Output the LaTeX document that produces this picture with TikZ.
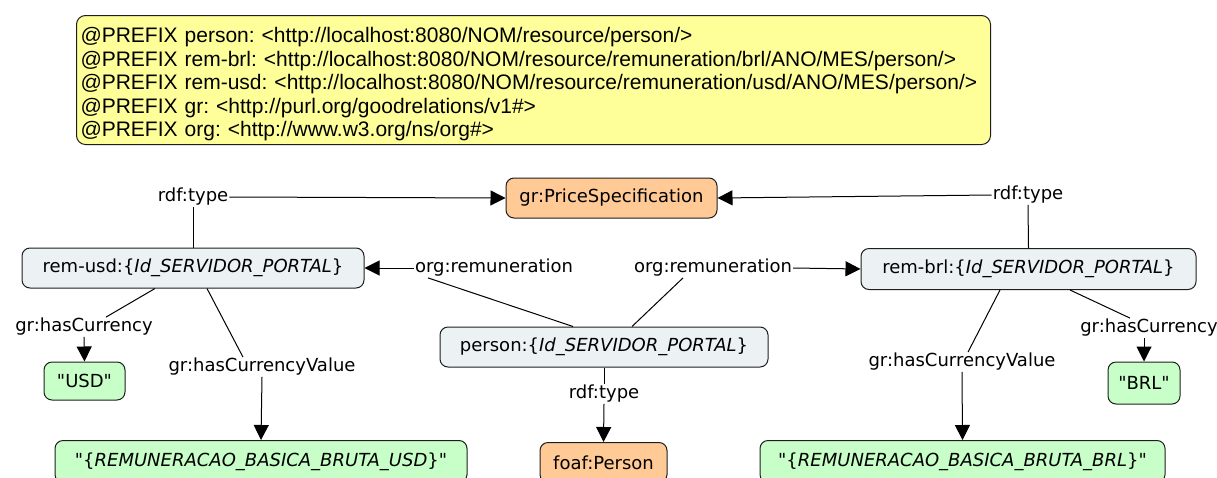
\documentclass[tikz,border=0pt]{standalone}
\usepackage{fontspec}
\setmainfont{DejaVu Sans}[Ligatures=TeXOff]
\newfontfamily\prefixfont{Liberation Sans}
\usetikzlibrary{arrows.meta}
\frenchspacing
\definecolor{prefixfill}{RGB}{255,255,153}
\definecolor{classfill}{RGB}{255,202,150}
\definecolor{resfill}{RGB}{236,242,244}
\definecolor{litfill}{RGB}{200,255,200}
\definecolor{edgecol}{RGB}{30,30,30}
\tikzset{
  box/.style={draw=edgecol, line width=1pt, rounded corners=8pt, inner sep=0pt, font=\fontsize{18}{21}\selectfont},
  cls/.style={box, fill=classfill},
  res/.style={box, fill=resfill},
  lit/.style={box, fill=litfill},
  lbl/.style={inner sep=1pt, font=\fontsize{18}{21}\selectfont},
  conn/.style={line width=1pt},
  arr/.style={conn, -{Triangle[length=15pt,width=15pt]}},
}
\begin{document}
\begin{tikzpicture}[x=1pt,y=-1pt]
\useasboundingbox (0,0) rectangle (1217,477);
\clip (0,0) rectangle (1217,477);
% prefix box
\node[draw=edgecol, line width=1pt, rounded corners=9pt, fill=prefixfill, minimum width=914pt, minimum height=128pt, text width=906pt, inner xsep=4pt, align=left, anchor=north west, font=\prefixfont\fontsize{21}{23.5}\selectfont\frenchspacing] (prefix) at (76,15)
{\rule{0pt}{24pt}@PREFIX person: <http://localhost:8080/NOM/resource/person/>\\
@PREFIX rem-brl: <http://localhost:8080/NOM/resource/remuneration/brl/ANO/MES/person/>\\
@PREFIX rem-usd: <http://localhost:8080/NOM/resource/remuneration/usd/ANO/MES/person/>\\
@PREFIX gr: <http://purl.org/goodrelations/v1\#>\\
@PREFIX org: <http://www.w3.org/ns/org\#>};

% nodes
\node[cls, minimum width=211pt, minimum height=40pt] (price) at (611.5,198) {gr:PriceSpecification};
\node[res, minimum width=342pt, minimum height=40pt] (usd) at (193,268) {rem-usd:\{\textit{Id\_SERVIDOR\_PORTAL}\}};
\node[res, minimum width=335pt, minimum height=41pt] (brl) at (1028.5,269) {rem-brl:\{\textit{Id\_SERVIDOR\_PORTAL}\}};
\node[res, minimum width=328pt, minimum height=40pt] (person) at (604,347) {person:\{\textit{Id\_SERVIDOR\_PORTAL}\}};
\node[cls, minimum width=127pt, minimum height=40pt, anchor=north] (foaf) at (603.5,442) {foaf:Person};
\node[lit, minimum width=81pt, minimum height=38pt] (usdlit) at (84.5,381) {"USD"};
\node[lit, minimum width=72pt, minimum height=42pt] (brllit) at (1144,383) {"BRL"};
\node[lit, minimum width=412pt, minimum height=42pt, anchor=north] (usdval) at (261,440) {"\{\textit{REMUNERACAO\_BASICA\_BRUTA\_USD}\}"};
\node[lit, minimum width=405pt, minimum height=42pt, anchor=north] (brlval) at (962.5,440) {"\{\textit{REMUNERACAO\_BASICA\_BRUTA\_BRL}\}"};

% labels
\node[lbl] (tl) at (193,197) {rdf:type};
\node[lbl] (tr) at (1028,195) {rdf:type};
\node[lbl] (tp) at (604,394) {rdf:type};
\node[lbl] (rl) at (494,268) {org:remuneration};
\node[lbl] (rr) at (713,268) {org:remuneration};
\node[lbl] (cl) at (84,327) {gr:hasCurrency};
\node[lbl] (cr) at (1149,328) {gr:hasCurrency};
\node[lbl] (vl) at (262,367) {gr:hasCurrencyValue};
\node[lbl] (vr) at (962,362) {gr:hasCurrencyValue};

% connectors
\draw[conn] (usd.north) -- (tl.south);
\draw[arr] (tl.east) -- (price.west);
\draw[conn] (brl.north) -- (tr.south);
\draw[arr] (tr.west) -- (price.east);
\draw[conn] (person.north -| 573,0) -- (rl.south -| 428,0);
\draw[arr] (rl.west) -- (usd.east);
\draw[conn] (person.north -| 632,0) -- (rr.south -| 683,0);
\draw[arr] (rr.east) -- (brl.west);
\draw[conn] (person.south) -- (tp.north);
\draw[arr] (tp.south) -- (foaf.north);
\draw[conn] (usd.south -| 155,0) -- (cl.north -| 106,0);
\draw[arr] (cl.south) -- (usdlit.north);
\draw[conn] (usd.south -| 207,0) -- (vl.north -| 243,0);
\draw[arr] (vl.south) -- (usdval.north);
\draw[conn] (brl.south -| 1000,0) -- (vr.north -| 968,0);
\draw[arr] (vr.south) -- (brlval.north);
\draw[conn] (brl.south -| 1070,0) -- (cr.north -| 1130,0);
\draw[arr] (cr.south -| brllit.north) -- (brllit.north);
\end{tikzpicture}
\end{document}
